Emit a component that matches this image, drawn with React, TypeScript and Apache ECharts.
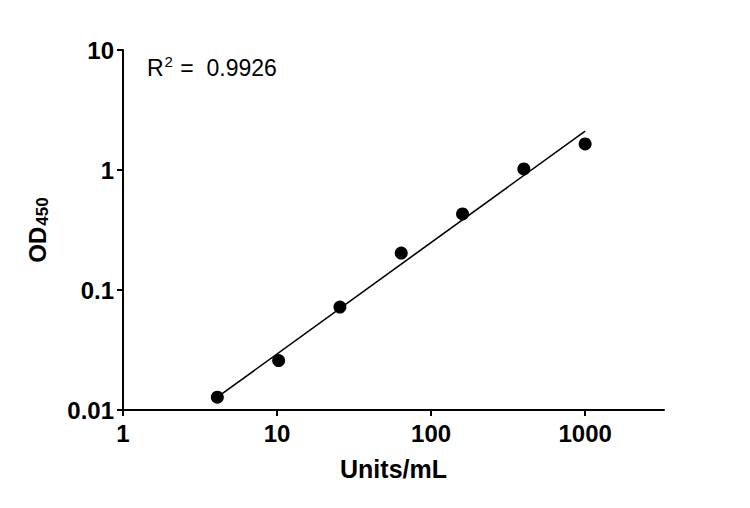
import React, { useEffect, useRef } from 'react';
import * as echarts from 'echarts';

// Units/mL and OD450 readings
const units = [4.096, 10.24, 25.6, 64, 160, 400, 1000];
const od450 = [0.0128, 0.0258, 0.072, 0.203, 0.43, 1.02, 1.65];
// fitted line end points
const fitUnits = [4.096, 1000];
const fitOd = [0.0128, 2.11];
const rSquared = '0.9926';

const FONT = 'Liberation Sans, Arial, sans-serif';

const App: React.FC = () => {
	const chartRef = useRef<HTMLDivElement>(null);

	useEffect(() => {
		document.body.style.margin = '0';
		if (!chartRef.current) return;
		const chart = echarts.init(chartRef.current, null, { renderer: 'svg' });

		const axisCommon = {
			axisLine: { show: true, lineStyle: { color: '#000', width: 2 } },
			axisTick: { show: true, inside: false, length: 6, lineStyle: { color: '#000', width: 2 } },
			minorTick: { show: false },
			splitLine: { show: false },
			axisLabel: { color: '#000', fontFamily: FONT, fontWeight: 'bold', fontSize: 24 }
		};

		const option: echarts.EChartsOption = {
			animation: false,
			backgroundColor: '#fff',
			grid: { left: 123, right: 86, top: 50, bottom: 98 },
			xAxis: {
				type: 'log',
				logBase: 10,
				min: 1,
				max: 3250,
				name: 'Units/mL',
				nameLocation: 'middle',
				nameGap: 46,
				nameTextStyle: { color: '#000', fontFamily: FONT, fontWeight: 'bold', fontSize: 25 },
				...axisCommon,
				axisLabel: {
					...axisCommon.axisLabel,
					margin: 11,
					showMaxLabel: false,
					formatter: (v: number) => String(Math.round(v))
				}
			} as any,
			yAxis: {
				type: 'log',
				logBase: 10,
				min: 0.01,
				max: 10,
				name: '{a|OD}{b|450}',
				nameLocation: 'middle',
				nameGap: 72,
				nameRotate: 90,
				nameTextStyle: {
					rich: {
						a: { color: '#000', fontFamily: FONT, fontWeight: 'bold', fontSize: 24 },
						b: { color: '#000', fontFamily: FONT, fontWeight: 'bold', fontSize: 17, padding: [10, 0, 0, 1] }
					}
				},
				...axisCommon,
				axisLabel: {
					...axisCommon.axisLabel,
					margin: 9,
					formatter: (v: number) => String(Number(v.toPrecision(3)))
				}
			} as any,
			series: [
				{
					type: 'line',
					data: fitUnits.map((u, i) => [u, fitOd[i]]),
					showSymbol: false,
					symbol: 'none',
					lineStyle: { color: '#000', width: 1.6 },
					silent: true,
					z: 1
				},
				{
					type: 'scatter',
					data: units.map((u, i) => [u, od450[i]]),
					symbol: 'circle',
					symbolSize: 13,
					itemStyle: { color: '#000', opacity: 1 },
					z: 2
				}
			],
			graphic: [
				{
					type: 'text',
					left: 147,
					top: 54,
					style: {
						text: '{r|R}{s|2}{r| =  ' + rSquared + '}',
						rich: {
							r: { fontFamily: FONT, fontSize: 23, fill: '#000' },
							s: { fontFamily: FONT, fontSize: 15, fill: '#000', padding: [0, 1, 12, 1] }
						}
					} as any
				}
			]
		};

		chart.setOption(option);
		return () => {
			chart.dispose();
		};
	}, []);

	return <div ref={chartRef} style={{ width: 750, height: 508 }} />;
};

export default App;
